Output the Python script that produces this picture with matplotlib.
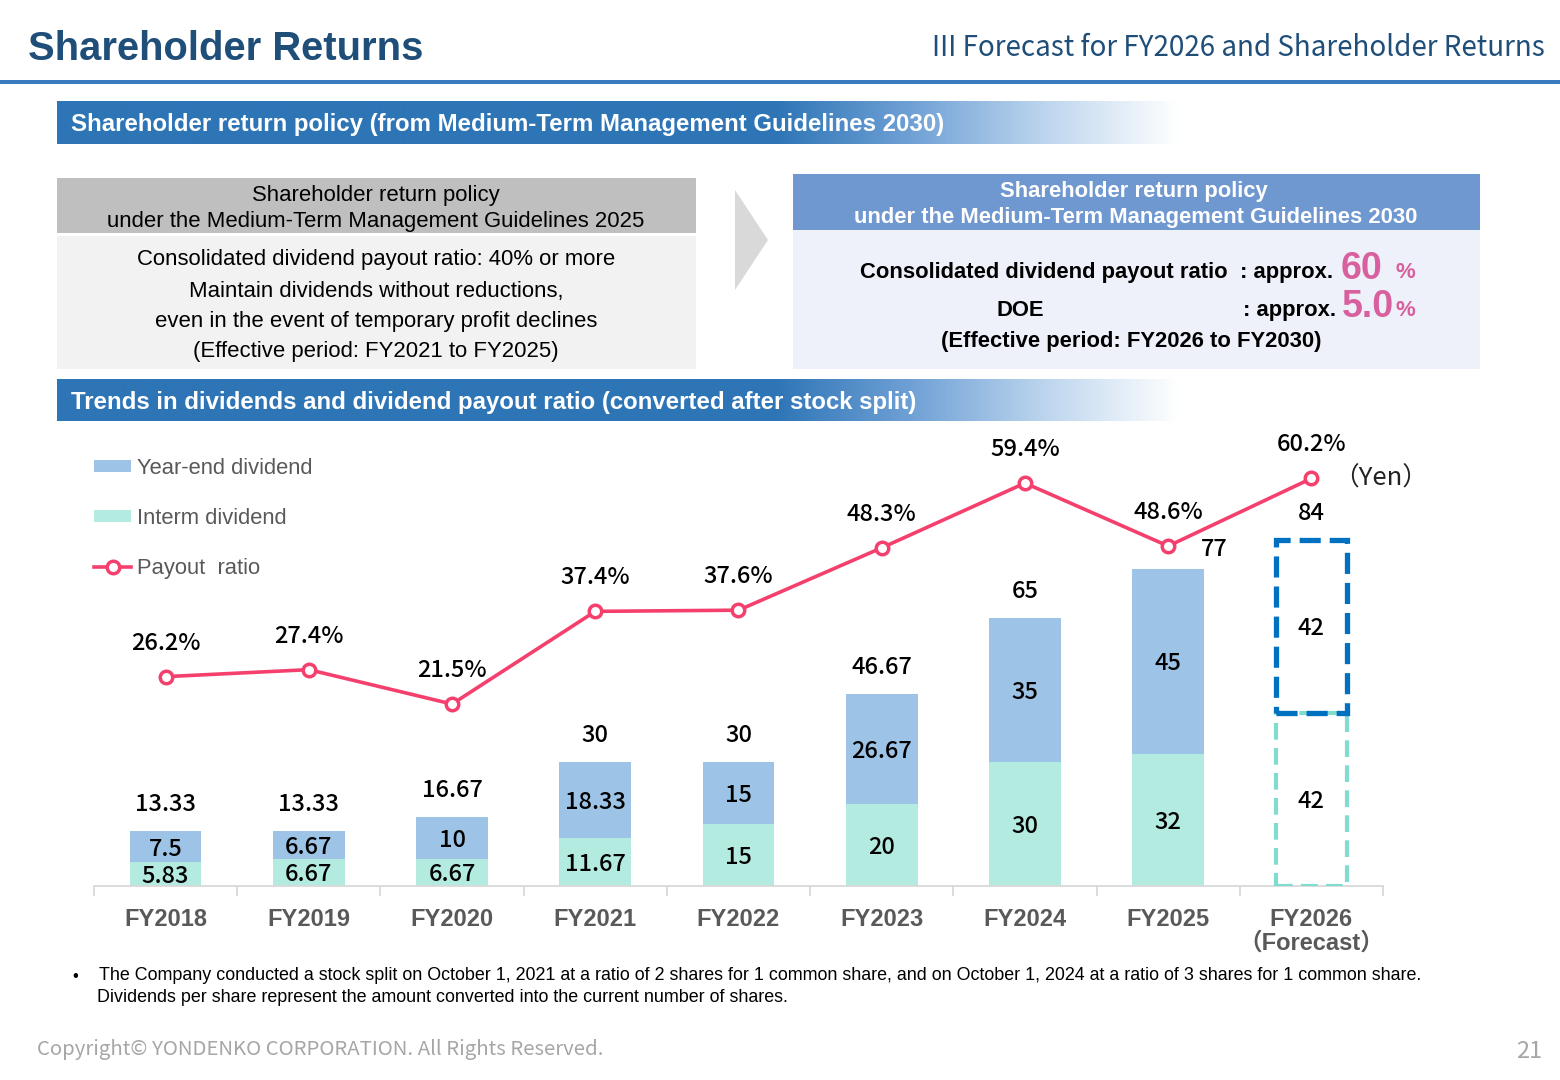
import numpy as np
import matplotlib
matplotlib.use("Agg")
import matplotlib.pyplot as plt
from matplotlib.patches import Rectangle, Polygon
from matplotlib.colors import to_rgba


# ─────────────────────────────────────────────
# Data
# ─────────────────────────────────────────────

years		= ["FY2018", "FY2019", "FY2020", "FY2021", "FY2022",
		   "FY2023", "FY2024", "FY2025", "FY2026\n（Forecast）"]
interim		= [5.83, 6.67, 6.67, 11.67, 15, 20, 30, 32, 42]
year_end	= [7.5, 6.67, 10, 18.33, 15, 26.67, 35, 45, 42]
interim_lbl	= ["5.83", "6.67", "6.67", "11.67", "15", "20", "30", "32", "42"]
year_end_lbl	= ["7.5", "6.67", "10", "18.33", "15", "26.67", "35", "45", "42"]
total_lbl	= ["13.33", "13.33", "16.67", "30", "30", "46.67", "65", "77", "84"]
payout		= [26.2, 27.4, 21.5, 37.4, 37.6, 48.3, 59.4, 48.6, 60.2]
forecast_idx	= 8


# ─────────────────────────────────────────────
# Styles
# ─────────────────────────────────────────────

ARIAL	= ["Liberation Sans", "DejaVu Sans"]
JP	= ["Noto Sans CJK JP", "DejaVu Sans"]
TICKF	= ["Liberation Sans", "Noto Sans CJK JP", "DejaVu Sans"]

NAVY	= "#1F4E79"
BLUE	= "#2E75B6"
C_YE	= "#9DC3E6"
C_IN	= "#B3EBE1"
C_LINE	= "#F5406E"
C_DASH_B = "#0070C0"
C_DASH_M = "#7FDCCF"
PINK	= "#D9609E"
GRAY_T	= "#595959"
LBL_W	= "medium"

W, H = 1560, 1080
fig = plt.figure(figsize=(W/100, H/100), dpi=100)
fig.patch.set_facecolor("white")

# overlay axes in pixel coordinates for the slide decoration
bg = fig.add_axes([0, 0, 1, 1])
bg.set_xlim(0, W)
bg.set_ylim(H, 0)
bg.axis("off")


def banner(y0, y1, text):
	stops = [(0.0, BLUE), (0.64, BLUE), (0.76, "#6FA0D5"), (0.88, "#BCD5EE"), (1.0, "#FFFFFF")]
	n = 400
	t = np.linspace(0, 1, n)
	cols = np.zeros((1, n, 4))
	for k in range(len(stops) - 1):
		a, ca = stops[k]
		b, cb = stops[k + 1]
		m = (t >= a) & (t <= b)
		f = (t[m] - a)/(b - a)
		cols[0, m] = (1 - f)[:, None]*np.array(to_rgba(ca)) + f[:, None]*np.array(to_rgba(cb))
	bg.imshow(cols, extent=(57, 1180, y1, y0), aspect="auto", interpolation="bilinear")
	bg.text(71, (y0 + y1)/2 + 2, text, color="white", fontsize=17.3, fontweight="bold",
		family=ARIAL, va="center", ha="left")


# ── header ───────────────────────────────
bg.text(28, 49, "Shareholder Returns", color=NAVY, fontsize=28.8, fontweight="bold",
	family=ARIAL, va="center", ha="left")
bg.text(1545, 48, "III Forecast for FY2026 and Shareholder Returns", color=NAVY,
	fontsize=20, family=JP, va="center", ha="right")
bg.add_patch(Rectangle((0, 79.5), W, 4, color="#3A7BBF", lw=0))

banner(101, 144, "Shareholder return policy (from Medium-Term Management Guidelines 2030)")

# ── left policy box ──────────────────────
bg.add_patch(Rectangle((57, 178), 639, 55, color="#BFBFBF", lw=0))
bg.add_patch(Rectangle((57, 236), 639, 133, color="#F2F2F2", lw=0))
bg.text(376, 195, "Shareholder return policy", fontsize=15.9, family=ARIAL, ha="center", va="center")
bg.text(376, 222, "under the Medium-Term Management Guidelines 2025", fontsize=15.9, family=ARIAL,
	ha="center", va="center")
for yy, s in zip([260, 291, 321, 351],
		 ["Consolidated dividend payout ratio: 40% or more",
		  "Maintain dividends without reductions,",
		  "even in the event of temporary profit declines",
		  "(Effective period: FY2021 to FY2025)"]):
	bg.text(376, yy, s, fontsize=15.9, family=ARIAL, ha="center", va="center")

# ── arrow ────────────────────────────────
bg.add_patch(Polygon([(735, 190), (768, 240), (735, 290)], closed=True, color="#D9D9D9", lw=0))

# ── right policy box ─────────────────────
bg.add_patch(Rectangle((793, 174), 687, 56, color="#7098D0", lw=0))
bg.add_patch(Rectangle((793, 230), 687, 139, color="#EEF1FA", lw=0))
bg.text(1134, 192, "Shareholder return policy", fontsize=15.8, fontweight="bold", color="white",
	family=ARIAL, ha="center", va="center")
bg.text(1136, 218, "under the Medium-Term Management Guidelines 2030", fontsize=15.8,
	fontweight="bold", color="white", family=ARIAL, ha="center", va="center")
bg.text(1228, 278, "Consolidated dividend payout ratio", fontsize=15.8, fontweight="bold",
	family=ARIAL, ha="right", va="baseline")
bg.text(1240, 278, ": approx.", fontsize=15.8, fontweight="bold", family=ARIAL, ha="left", va="baseline")
bg.text(1341, 279, "60", fontsize=27, fontweight="bold", color=PINK, family=ARIAL, ha="left", va="baseline")
bg.text(1396, 278, "%", fontsize=16, fontweight="bold", color=PINK, family=ARIAL, ha="left", va="baseline")
bg.text(1020, 316, "DOE", fontsize=15.8, fontweight="bold", family=ARIAL, ha="center", va="baseline")
bg.text(1243, 316, ": approx.", fontsize=15.8, fontweight="bold", family=ARIAL, ha="left", va="baseline")
bg.text(1342, 317, "5.0", fontsize=27, fontweight="bold", color=PINK, family=ARIAL, ha="left", va="baseline")
bg.text(1396, 316, "%", fontsize=16, fontweight="bold", color=PINK, family=ARIAL, ha="left", va="baseline")
bg.text(1131, 342, "(Effective period: FY2026 to FY2030)", fontsize=15.8, fontweight="bold",
	family=ARIAL, ha="center", va="center")

banner(379, 421, "Trends in dividends and dividend payout ratio (converted after stock split)")

# ── footnote / footer ────────────────────
bg.text(75, 976, "•", fontsize=12, family=ARIAL, ha="center", va="center")
bg.text(99, 976, "The Company conducted a stock split on October 1, 2021 at a ratio of 2 shares for 1 "
	"common share, and on October 1, 2024 at a ratio of 3 shares for 1 common share.",
	fontsize=12.9, family=ARIAL, ha="left", va="center")
bg.text(97, 998, "Dividends per share represent the amount converted into the current number of shares.",
	fontsize=12.9, family=ARIAL, ha="left", va="center")
bg.text(37, 1049, "Copyright© YONDENKO CORPORATION. All Rights Reserved.", fontsize=14.7,
	color="#A6A6A6", family=JP, ha="left", va="center")
bg.text(1542, 1051, "21", fontsize=17, color="#A6A6A6", family=JP, ha="right", va="center")
bg.text(1381, 479, "（Yen）", fontsize=18.5, color="#222222", family=JP, ha="center", va="center")


# ─────────────────────────────────────────────
# Chart
# ─────────────────────────────────────────────

PX_BAR	= 4.12		# pixels per yen
PX_PCT	= 5.83		# pixels per percent
AX_H	= 456
LBL_DY	= 2.5		# pixels: nudge labels down

ax = fig.add_axes([94/W, (H - 886)/H, 1289/W, AX_H/H])
ax.patch.set_alpha(0)
x = np.arange(len(years))
n_act = forecast_idx

ax.bar(x[:n_act], interim[:n_act], width=0.5, color=C_IN, label="Interm dividend", zorder=2)
ax.bar(x[:n_act], year_end[:n_act], width=0.5, bottom=interim[:n_act], color=C_YE,
       label="Year-end dividend", zorder=2)

# forecast: dashed outlines only
ax.bar(x[n_act], interim[n_act], width=0.5, fill=False, edgecolor=C_DASH_M, linewidth=3,
       linestyle=(0, (4, 2)), zorder=3)
ax.bar(x[n_act], year_end[n_act], width=0.5, bottom=interim[n_act], fill=False,
       edgecolor=C_DASH_B, linewidth=3.8, linestyle=(0, (4, 1.7)), zorder=4)

dy = LBL_DY/PX_BAR
for i in range(len(years)):
	tot = interim[i] + year_end[i]
	ax.text(x[i], interim[i]/2 - dy, interim_lbl[i], ha="center", va="center", fontsize=17,
		fontweight=LBL_W, family=JP, zorder=5)
	ax.text(x[i], interim[i] + year_end[i]/2 - dy, year_end_lbl[i], ha="center", va="center",
		fontsize=17, fontweight=LBL_W, family=JP, zorder=5)
	if i == 7:
		ax.text(x[i] + 0.32, tot + 22/PX_BAR - dy, total_lbl[i], ha="center", va="center",
			fontsize=17, fontweight=LBL_W, family=JP, zorder=5)
	else:
		ax.text(x[i], tot + 29/PX_BAR - dy, total_lbl[i], ha="center", va="center", fontsize=17,
			fontweight=LBL_W, family=JP, zorder=5)

ax.set_xlim(-0.5, len(years) - 0.5)
ax.set_ylim(0, AX_H/PX_BAR)
ax.set_yticks([])
for s in ["top", "left", "right"]:
	ax.spines[s].set_visible(False)
ax.spines["bottom"].set_color("#D9D9D9")
ax.spines["bottom"].set_linewidth(1.3)
ax.set_xticks(x)
ax.set_xticklabels(years, fontsize=17, fontweight="bold", color=GRAY_T, family=TICKF)
for lbl in ax.get_xticklabels():
	lbl.set_linespacing(1.0)
ax.tick_params(axis="x", which="major", length=0, pad=16)
ax.set_xticks(np.arange(-0.5, len(years)), minor=True)
ax.tick_params(axis="x", which="minor", length=7, color="#D9D9D9", width=1.3)

# payout ratio on its own scale
ax2 = ax.twinx()
ax2.plot(x, payout, color=C_LINE, linewidth=2.6, marker="o", markersize=9,
	 markerfacecolor="white", markeredgewidth=2.5, label="Payout  ratio", zorder=6)
for i, p in enumerate(payout):
	ax2.text(x[i], p + (36 - LBL_DY)/PX_PCT, f"{p}%", ha="center", va="center", fontsize=17,
		 fontweight=LBL_W, family=JP)
zero_px = 886 - 829.4
ax2.set_ylim(-zero_px/PX_PCT, (AX_H - zero_px)/PX_PCT)
ax2.set_yticks([])
for s in ["top", "left", "right", "bottom"]:
	ax2.spines[s].set_visible(False)

# legend
h1, l1 = ax.get_legend_handles_labels()
h2, l2 = ax2.get_legend_handles_labels()
leg = ax.legend([h1[1], h1[0], h2[0]], [l1[1], l1[0], l2[0]], loc="upper left",
		bbox_to_anchor=(0, (886 - 458)/AX_H), frameon=False, borderpad=0, borderaxespad=0,
		labelspacing=1.32, handlelength=1.7, handleheight=0.5, handletextpad=0.25,
		prop={"family": ARIAL, "size": 15.8})
for t in leg.get_texts():
	t.set_color(GRAY_T)
leg.set_zorder(10)

plt.savefig("out.png", dpi=100)
plt.close()
